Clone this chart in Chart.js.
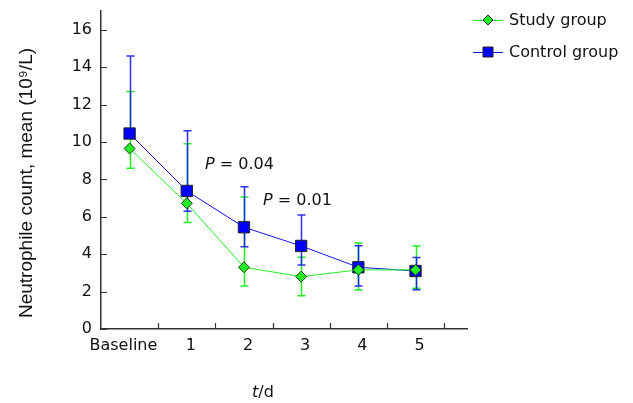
<!DOCTYPE html>
<html>
<head>
<meta charset="utf-8">
<script src="https://cdn.jsdelivr.net/npm/chart.js@4.4.1/dist/chart.umd.min.js"></script>
<style>
  body { margin: 0; background: #fff; }
  canvas { display: block; }
</style>
</head>
<body>
<canvas id="neutroChart" width="633" height="403"></canvas>
<script>
// days after treatment
var days = ['Baseline', '1', '2', '3', '4', '5'];

// study group: mean and error bar ends
var studyMean = [9.65, 6.72, 3.3, 2.8, 3.16, 3.16];
var studyHigh = [12.7, 9.9, 7.05, 3.83, 4.6, 4.44];
var studyLow  = [8.6, 5.7, 2.3, 1.78, 2.09, 2.18];

// control group
var controlMean = [10.45, 7.38, 5.44, 4.44, 3.3, 3.1];
var controlHigh = [14.6, 10.6, 7.6, 6.1, 4.45, 3.82];
var controlLow  = [10.45, 6.3, 4.4, 3.42, 2.3, 2.1];

var yTicks = [0, 2, 4, 6, 8, 10, 12, 14, 16];
var xTickMarks = [0.5, 1.5, 2.5, 3.5, 4.5, 5.5];

var notes = [
  { text: ' = 0.04', x: 205, y: 169 },
  { text: ' = 0.01', x: 263, y: 205 }
];

var green = '#22ee22', blue = '#1414f0';

function toPoints(arr) {
  return arr.map(function(v, i) { return { x: i, y: v }; });
}

var extras = {
  id: 'extras',
  beforeDatasetsDraw: function(chart) {
    var ctx = chart.ctx, xs = chart.scales.x, ys = chart.scales.y;
    function bars(mean, hi, lo, color, alpha) {
      ctx.save();
      ctx.strokeStyle = color;
      ctx.globalAlpha = alpha;
      ctx.lineWidth = 1.5;
      for (var i = 0; i < mean.length; i++) {
        var px = Math.round(xs.getPixelForValue(i)) + 0.5;
        var top = ys.getPixelForValue(hi[i]), bot = ys.getPixelForValue(lo[i]);
        ctx.beginPath();
        ctx.moveTo(px, top); ctx.lineTo(px, bot);
        ctx.moveTo(px - 4, top); ctx.lineTo(px + 4, top);
        if (lo[i] < mean[i]) { ctx.moveTo(px - 4, bot); ctx.lineTo(px + 4, bot); }
        ctx.stroke();
      }
      ctx.restore();
    }
    bars(studyMean, studyHigh, studyLow, green, 1);
    bars(controlMean, controlHigh, controlLow, '#0a0aff', 0.85);
  },
  afterDraw: function(chart) {
    var ctx = chart.ctx, xs = chart.scales.x, ys = chart.scales.y;
    var area = chart.chartArea;
    ctx.save();
    // inward tick marks
    ctx.strokeStyle = '#333';
    ctx.lineWidth = 1.2;
    ctx.beginPath();
    yTicks.forEach(function(v) {
      var py = Math.round(ys.getPixelForValue(v)) + 0.5;
      ctx.moveTo(area.left, py); ctx.lineTo(area.left + 6, py);
    });
    xTickMarks.forEach(function(v) {
      var px = Math.round(xs.getPixelForValue(v)) + 0.5;
      ctx.moveTo(px, area.bottom); ctx.lineTo(px, area.bottom - 6);
    });
    ctx.stroke();

    // P value notes
    ctx.fillStyle = '#111';
    ctx.textBaseline = 'alphabetic';
    ctx.textAlign = 'left';
    notes.forEach(function(n) {
      ctx.font = 'italic 16px "DejaVu Sans"';
      ctx.fillText('P', n.x, n.y);
      var w = ctx.measureText('P').width;
      ctx.font = '16px "DejaVu Sans"';
      ctx.fillText(n.text, n.x + w, n.y);
    });

    // x title
    ctx.font = 'italic 16px "DejaVu Sans"';
    var tw = ctx.measureText('t').width;
    ctx.font = '16px "DejaVu Sans"';
    var dw = ctx.measureText('/d').width;
    var sx = 263 - (tw + dw) / 2;
    ctx.font = 'italic 16px "DejaVu Sans"';
    ctx.fillText('t', sx, 397);
    ctx.font = '16px "DejaVu Sans"';
    ctx.fillText('/d', sx + tw, 397);

    // y title
    ctx.save();
    ctx.translate(27, 183);
    ctx.rotate(-Math.PI / 2);
    ctx.textAlign = 'center';
    ctx.textBaseline = 'middle';
    ctx.font = '19px "Liberation Sans"';
    ctx.fillText('Neutrophile count, mean (10\u2079/L)', 0, 0);
    ctx.restore();

    // legend
    var items = [
      { label: 'Study group', color: green, y: 20, shape: 'diamond' },
      { label: 'Control group', color: blue, y: 52, shape: 'square' }
    ];
    items.forEach(function(it) {
      ctx.strokeStyle = it.color;
      ctx.lineWidth = 1;
      ctx.beginPath();
      ctx.moveTo(473, it.y + 0.5); ctx.lineTo(503, it.y + 0.5);
      ctx.stroke();
      ctx.fillStyle = it.shape === 'square' ? '#0000ff' : it.color;
      ctx.strokeStyle = '#222';
      ctx.beginPath();
      if (it.shape === 'diamond') {
        ctx.moveTo(488, it.y - 5); ctx.lineTo(493, it.y); ctx.lineTo(488, it.y + 5); ctx.lineTo(483, it.y);
        ctx.closePath();
      } else {
        ctx.rect(483, it.y - 5, 10, 10);
      }
      ctx.fill(); ctx.stroke();
      ctx.fillStyle = '#111';
      ctx.font = '16px "DejaVu Sans"';
      ctx.textBaseline = 'middle';
      ctx.fillText(it.label, 509, it.y + 1);
    });
    ctx.restore();
  }
};

var chart = new Chart(document.getElementById('neutroChart'), {
  type: 'line',
  data: {
    datasets: [{
      label: 'Study group',
      data: toPoints(studyMean),
      borderColor: green,
      borderWidth: 1,
      pointStyle: 'rectRot',
      pointRadius: 5.5,
      pointBackgroundColor: green,
      pointBorderColor: '#1a3a1a',
      pointBorderWidth: 1
    }, {
      label: 'Control group',
      data: toPoints(controlMean),
      borderColor: blue,
      borderWidth: 1,
      pointStyle: 'rect',
      pointRadius: 8,
      pointBackgroundColor: '#0000ff',
      pointBorderColor: '#222',
      pointBorderWidth: 1
    }]
  },
  options: {
    responsive: false,
    devicePixelRatio: 1,
    animation: false,
    layout: { padding: { left: 0, top: 11, right: 166, bottom: 0 } },
    plugins: { legend: { display: false }, tooltip: { enabled: false } },
    scales: {
      x: {
        type: 'linear',
        min: -0.5,
        max: 5.9,
        grid: { display: false, drawTicks: false },
        border: { display: true, color: '#333', width: 1.5 },
        afterBuildTicks: function(s) { s.ticks = days.map(function(d, i) { return { value: i }; }); },
        afterFit: function(s) { s.height = 74; },
        ticks: {
          padding: 7,
          labelOffset: 4,
          autoSkip: false,
          color: '#111',
          font: { family: 'DejaVu Sans', size: 16 },
          maxRotation: 0,
          // the first label sits a little left of its point in the original
          callback: function(v) { return v === 0 ? days[v] + '    ' : days[v]; }
        }
      },
      y: {
        min: 0,
        max: 17,
        grid: { display: false, drawTicks: false },
        border: { display: true, color: '#333', width: 1.5 },
        afterBuildTicks: function(s) { s.ticks = yTicks.map(function(v) { return { value: v }; }); },
        afterFit: function(s) { s.width = 101; s.paddingTop = 0; s.paddingBottom = 0; },
        ticks: {
          padding: 9,
          color: '#111',
          font: { family: 'DejaVu Sans', size: 16 }
        }
      }
    }
  },
  plugins: [extras]
});
</script>
</body>
</html>
